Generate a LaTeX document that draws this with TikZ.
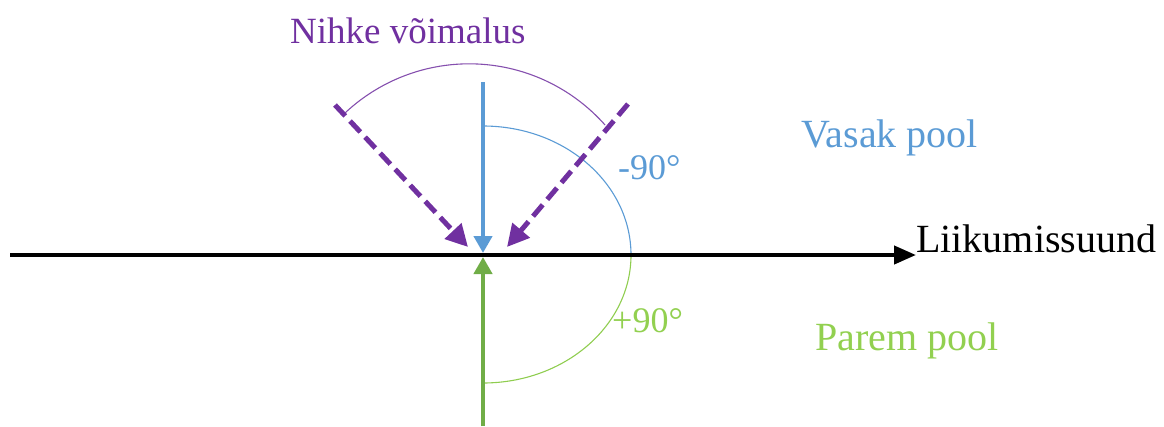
\documentclass[tikz,border=0pt]{standalone}
\usepackage{fontspec}
\setmainfont{Liberation Serif}
\usetikzlibrary{arrows.meta}
\definecolor{cblue}{HTML}{5B9BD5}
\definecolor{cpurple}{HTML}{7030A0}
\definecolor{cgreen}{HTML}{70AD47}
\definecolor{clgreen}{HTML}{92D050}
\tikzset{
  lbl/.style={anchor=base west, inner sep=0pt, font=\fontsize{38}{40}\selectfont},
  thickline/.style={line width=4.2pt},
  dasharrow/.style={cpurple, line width=5pt, dash pattern=on 15pt off 7pt,
    -{Triangle[length=22pt,width=22pt]}},
  thinarc/.style={line width=1.1pt}
}
\begin{document}
\begin{tikzpicture}[x=1pt,y=-1pt]
\useasboundingbox (0,0) rectangle (1164,426);
% key points
\coordinate (O) at (483,255);
\coordinate (L0) at (10,255);
\coordinate (L1) at (916,255);
\coordinate (B0) at (483,82);
\coordinate (Btip) at (483,253);
\coordinate (G0) at (483,426);
\coordinate (Gtip) at (483,257);
\coordinate (PL0) at (335,105);
\coordinate (PLtip) at (468,247);
\coordinate (PR0) at (628,104);
\coordinate (PRtip) at (507,247);
\coordinate (PC) at (469.2,245.2);
% arcs
\draw[cpurple!85, thinarc] (PC) ++(-133.2:181.4) arc[start angle=-133.2, end angle=-41.5, radius=181.4];
\draw[cblue, thinarc] (O) ++(0,-129) arc[start angle=-90, end angle=0, x radius=148, y radius=129];
\draw[clgreen!90!cgreen, thinarc] (O) ++(148,0) arc[start angle=0, end angle=90, x radius=148, y radius=128];
% main axis
\draw[black, thickline, -{Triangle[length=22pt,width=18pt]}] (L0) -- (L1);
% vertical arrows
\draw[cblue, thickline, -{Triangle[length=17pt,width=18pt]}] (B0) -- (Btip);
\draw[cgreen, thickline, -{Triangle[length=17pt,width=18pt]}] (G0) -- (Gtip);
% dashed purple arrows
\draw[dasharrow] (PL0) -- (PLtip);
\draw[dasharrow] (PR0) -- (PRtip);
% labels
\node[lbl, text=black, font=\fontsize{40}{42}\selectfont] (tmove) at (916,252) {Liikumissuund};
\node[lbl, text=cpurple, font=\fontsize{37}{40}\selectfont] (tshift) at (290,43) {Nihke võimalus};
\node[lbl, text=cblue, font=\fontsize{40}{42}\selectfont] (tleft) at (801,147) {Vasak pool};
\node[lbl, text=clgreen, font=\fontsize{40}{42}\selectfont] (tright) at (815,350) {Parem pool};
\node[lbl, text=cblue, font=\fontsize{36}{40}\selectfont] (tm90) at (618,179) {-90°};
\node[lbl, text=clgreen, font=\fontsize{36}{40}\selectfont] (tp90) at (612,332) {+90°};
\end{tikzpicture}
\end{document}
